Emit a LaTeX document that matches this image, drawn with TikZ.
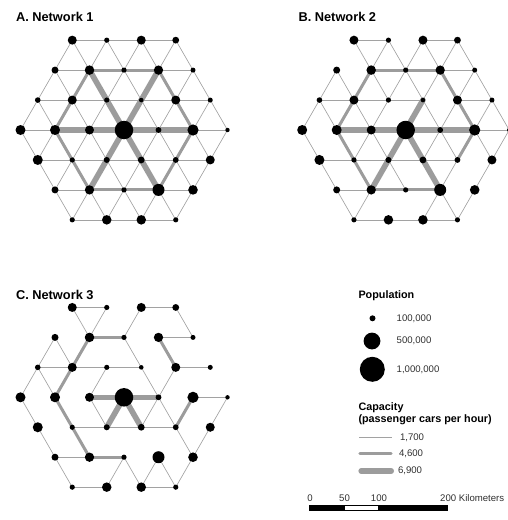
\documentclass[tikz,border=0pt]{standalone}
\usepackage{fontspec}
\setmainfont{Liberation Sans}
\pgfdeclarelayer{bg}
\pgfsetlayers{bg,main}
\definecolor{thingray}{HTML}{A2A2A2}
\definecolor{capgray}{HTML}{9C9C9C}
\definecolor{txtgray}{HTML}{303030}
\newcommand\ftitle{\bfseries\fontsize{12.8}{15}\selectfont}
\newcommand\fhead{\bfseries\fontsize{10.8}{13}\selectfont}
\newcommand\flab{\fontsize{9.6}{11}\selectfont}
\def\poplist{3/0/9,5/0/5.2,7/0/9,9/0/6.8,
2/1/7,4/1/9.5,6/1/5.2,8/1/9.3,10/1/5,
1/2/5.6,3/2/9,5/2/5.2,7/2/4.6,9/2/9,11/2/5,
0/3/10,2/3/10,4/3/9,6/3/18.5,8/3/5.8,10/3/11.2,12/3/4.4,
1/4/10,3/4/5.2,5/4/6,7/4/6.8,9/4/5.8,11/4/9,
2/5/7,4/5/9.3,6/5/5.2,8/5/12,10/5/9.6,
3/6/5.2,5/6/9.5,7/6/9.5,9/6/5.2}
\newcommand\placenet[3]{%
  \foreach \c/\r/\d in \poplist {
    \node[pop, minimum size=\d pt] (#1-\c-\r) at ({#2+(\c-6)*17.25},{#3+(\r-3)*29.95}) {};
  }}
\newcommand\linkset[3]{%
  \foreach \p/\q in {#3} {\draw[#2] (#1-\p.center) -- (#1-\q.center);}}
\begin{document}
\begin{tikzpicture}[x=1pt,y=-1pt,
  pop/.style={circle, fill=black, inner sep=0pt},
  link/.style={draw=thingray, line width=0.65pt},
  capmid/.style={draw=capgray, line width=3pt, line cap=round},
  capbig/.style={draw=capgray, line width=5.6pt, line cap=round},
  titletext/.style={anchor=base west, font=\ftitle},
  headtext/.style={anchor=base west, font=\fhead},
  labtext/.style={anchor=west, font=\flab, text=txtgray, inner sep=0pt},
  scaletext/.style={font=\flab, text=txtgray, inner sep=0pt}]
\useasboundingbox (0,0) rectangle (507,520);

% titles
\node[titletext] (tA) at (12.5,21.7) {A. Network 1};
\node[titletext] (tB) at (295,21.7) {B. Network 2};
\node[titletext] (tC) at (12.5,299.3) {C. Network 3};

% nodes
\placenet{A}{124}{130}
\placenet{B}{405.7}{130}
\placenet{C}{124}{397.3}

\begin{pgfonlayer}{bg}
% ---------- Network A: full lattice ----------
\foreach \r in {0,...,6}{
  \pgfmathtruncatemacro\dA{abs(\r-3)}
  \pgfmathtruncatemacro\dB{\dA+2}
  \pgfmathtruncatemacro\cm{12-\dA}
  \pgfmathtruncatemacro\rn{\r+1}
  \pgfmathtruncatemacro\dn{abs(\r-2)}
  \pgfmathtruncatemacro\cmn{12-\dn}
  \foreach \c in {\dA,\dB,...,\cm}{
    \pgfmathtruncatemacro\cr{\c+2}
    \pgfmathtruncatemacro\cdr{\c+1}
    \pgfmathtruncatemacro\cdl{\c-1}
    \ifnum\cr>\cm\relax\else \draw[link] (A-\c-\r.center) -- (A-\cr-\r.center);\fi
    \ifnum\r<6\relax
      \ifnum\cdr>\cmn\relax\else \draw[link] (A-\c-\r.center) -- (A-\cdr-\rn.center);\fi
      \ifnum\cdl<\dn\relax\else \draw[link] (A-\c-\r.center) -- (A-\cdl-\rn.center);\fi
    \fi
  }
}
\linkset{A}{capmid}{4-1/6-1,6-1/8-1,8-1/9-2,9-2/10-3,10-3/9-4,9-4/8-5,8-5/6-5,6-5/4-5,4-5/3-4,3-4/2-3,2-3/3-2,3-2/4-1}
\linkset{A}{capbig}{2-3/4-3,4-3/6-3,6-3/8-3,8-3/10-3,4-1/5-2,5-2/6-3,6-3/7-4,7-4/8-5,8-1/7-2,7-2/6-3,6-3/5-4,5-4/4-5}

% ---------- Network B ----------
\linkset{B}{link}{3-0/5-0,7-0/9-0,
3-0/4-1,5-0/4-1,5-0/6-1,7-0/6-1,7-0/8-1,9-0/8-1,9-0/10-1,
8-1/10-1,
2-1/1-2,2-1/3-2,4-1/5-2,6-1/5-2,6-1/7-2,8-1/7-2,10-1/9-2,10-1/11-2,
1-2/3-2,3-2/5-2,5-2/7-2,9-2/11-2,
1-2/0-3,1-2/2-3,3-2/4-3,5-2/4-3,7-2/8-3,9-2/8-3,11-2/10-3,11-2/12-3,
10-3/12-3,
0-3/1-4,4-3/3-4,4-3/5-4,8-3/7-4,8-3/9-4,10-3/11-4,12-3/11-4,
1-4/3-4,3-4/5-4,5-4/7-4,7-4/9-4,
1-4/2-5,5-4/6-5,9-4/8-5,11-4/10-5,
2-5/4-5,
2-5/3-6,4-5/3-6,8-5/7-6,8-5/9-6,10-5/9-6,
3-6/5-6,5-6/7-6,7-6/9-6}
\linkset{B}{capmid}{4-1/6-1,6-1/8-1,8-1/9-2,9-2/10-3,10-3/9-4,4-1/3-2,3-2/2-3,2-3/3-4,3-4/4-5,4-5/6-5,6-5/8-5}
\linkset{B}{capbig}{2-3/4-3,4-3/6-3,6-3/8-3,8-3/10-3,6-3/7-2,6-3/7-4,7-4/8-5,6-3/5-4,5-4/4-5}

% ---------- Network C ----------
\linkset{C}{link}{3-0/5-0,7-0/9-0,
3-0/4-1,5-0/4-1,7-0/6-1,9-0/10-1,
8-1/10-1,
2-1/1-2,2-1/3-2,6-1/7-2,
1-2/3-2,3-2/5-2,5-2/7-2,9-2/11-2,
1-2/0-3,1-2/2-3,5-2/4-3,7-2/8-3,9-2/8-3,
10-3/12-3,
0-3/1-4,4-3/5-4,12-3/11-4,8-3/7-4,8-3/9-4,
3-4/5-4,5-4/7-4,7-4/9-4,
1-4/2-5,9-4/10-5,11-4/10-5,
2-5/4-5,
2-5/3-6,6-5/5-6,6-5/7-6,8-5/7-6,8-5/9-6,10-5/9-6,
3-6/5-6,7-6/9-6}
\linkset{C}{capmid}{4-1/6-1,4-1/3-2,3-2/2-3,2-3/3-4,3-4/4-5,4-5/6-5,8-1/9-2,10-3/9-4}
\linkset{C}{capbig}{4-3/6-3,6-3/8-3,6-3/5-4,6-3/7-4}
\end{pgfonlayer}

% ---------- Legend ----------
\node[headtext] (popT) at (355,298.3) {Population};
\node[pop, minimum size=6pt] (p1) at (372.5,318.3) {};
\node[pop, minimum size=16.8pt] (p2) at (372,341) {};
\node[pop, minimum size=25pt] (p3) at (372.3,369.3) {};
\node[labtext] (p1t) at (396.5,318.3) {100,000};
\node[labtext] (p2t) at (396.5,341) {500,000};
\node[labtext] (p3t) at (396.5,369.3) {1,000,000};

\node[headtext] (capT) at (355,410) {Capacity};
\node[headtext] (capT2) at (355,422.7) {(passenger cars per hour)};
\coordinate (k1a) at (359.3,437.7); \coordinate (k1b) at (391.7,437.7);
\coordinate (k2a) at (359.8,453.3); \coordinate (k2b) at (391.2,453.3);
\coordinate (k3a) at (361.2,471);   \coordinate (k3b) at (391.2,471);
\draw[link] (k1a) -- (k1b);
\draw[capmid] (k2a) -- (k2b);
\draw[capbig] (k3a) -- (k3b);
\node[labtext] (k1t) at (399.8,437.7) {1,700};
\node[labtext] (k2t) at (398.8,453.3) {4,600};
\node[labtext] (k3t) at (397.8,471) {6,900};

% ---------- Scale bar ----------
\node[scaletext] (s0) at (310,498.3) {0};
\node[scaletext] (s50) at (344.5,498.3) {50};
\node[scaletext] (s100) at (379,498.3) {100};
\node[scaletext, anchor=west] (s200) at (440,498.3) {200 Kilometers};
\fill[black] (309.3,505) rectangle (344,510.5);
\fill[black] (378.8,505) rectangle (448.3,510.5);
\draw[black, line width=0.8pt] (344,505.4) rectangle (378.8,510.1);
\end{tikzpicture}
\end{document}
